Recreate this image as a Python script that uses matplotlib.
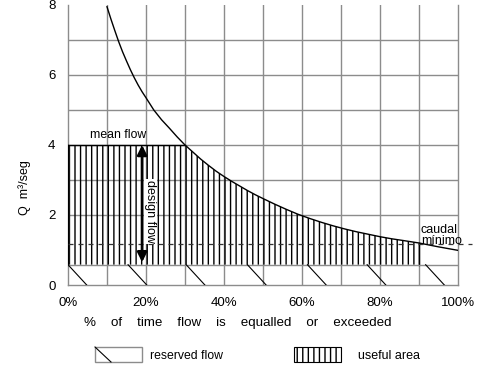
import numpy as np
import matplotlib
matplotlib.use("Agg")
import matplotlib.pyplot as plt
from matplotlib.patches import Rectangle

plt.rcParams['font.family'] = ['Liberation Sans', 'DejaVu Sans']
plt.rcParams['hatch.linewidth'] = 1.0

# flow duration curve
pct = [10, 11, 12, 13, 14, 15, 16, 17, 18, 19, 20, 22, 24, 26, 28, 30, 32, 34, 36, 38, 40,
       42, 44, 46, 48, 50, 53, 56, 59, 62, 65, 68, 71, 74, 77, 80, 83, 86, 90, 95, 100]
flow = [7.95, 7.6, 7.27, 6.95, 6.66, 6.4, 6.15, 5.92, 5.71, 5.52, 5.35, 5.0, 4.72, 4.48, 4.23,
        4.0, 3.8, 3.6, 3.42, 3.25, 3.1, 2.96, 2.83, 2.7, 2.58, 2.47, 2.31, 2.16, 2.02, 1.9,
        1.79, 1.69, 1.6, 1.52, 1.45, 1.38, 1.32, 1.27, 1.2, 1.09, 0.99]

mean_flow = 4.0
reserved_flow = 0.58
min_flow = 1.17
useful_end = 90
design_x = 19
design_bottom = 0.65

x_ticks = [0, 20, 40, 60, 80, 100]
x_tick_labels = ['0%', '20%', '40%', '60%', '80%', '100%']
y_ticks = [0, 2, 4, 6, 8]
v_grid = [10, 20, 30, 40, 50, 60, 70, 80, 90]
h_grid = [2, 3, 4, 5, 6, 7]
reserved_marks = [0, 15.4, 30.3, 46, 61.4, 76.7, 91.7]

grid_col = '#8c8c8c'

fig = plt.figure(figsize=(4.81, 3.71), dpi=100)
ax = fig.add_axes([68/481, 1-285/371, 390/481, 280/371])
ax.set_xlim(0, 100)
ax.set_ylim(0, 8)

for v in v_grid:
    ax.axvline(v, color=grid_col, lw=1.0, zorder=1)
for h in h_grid:
    ax.axhline(h, color=grid_col, lw=1.0, zorder=1)

# useful area: vertical hatching under min(mean flow, curve)
ux = [0]
uy = [mean_flow]
for p, f in zip(pct, flow):
    if f <= mean_flow and p <= useful_end:
        ux.append(p)
        uy.append(f)
ax.fill_between(ux, reserved_flow, uy, facecolor='none', edgecolor='black',
                hatch='|||', lw=0, zorder=2)
ax.plot([0, 30], [mean_flow, mean_flow], color='black', lw=1.0, zorder=3)
ax.plot([0, 0], [reserved_flow, mean_flow], color='black', lw=1.0, zorder=3)
ax.plot([useful_end, useful_end], [reserved_flow, uy[-1]], color='black', lw=1.0, zorder=3)

# reserved flow band
ax.plot([0, 100], [reserved_flow, reserved_flow], color=grid_col, lw=1.0, zorder=3)
for m in reserved_marks:
    ax.plot([m, m + 4.8], [reserved_flow, 0], color='black', lw=0.8, zorder=3)

# duration curve
ax.plot(pct, flow, color='black', lw=1.0, zorder=4)

# minimum flow dashed line
ax.plot([0, 103.5], [min_flow, min_flow], color='#333333', lw=0.9,
        dashes=(4, 4), zorder=4, clip_on=False)
ax.text(90.5, min_flow - 0.08, 'caudal\nmínimo', fontsize=9, ha='left', va='bottom',
        linespacing=0.85, zorder=5, clip_on=False)

# design flow arrow
ax.annotate('', xy=(design_x, mean_flow), xytext=(design_x, design_bottom),
            arrowprops=dict(arrowstyle='<|-|>', color='black', lw=2.0,
                            mutation_scale=14, shrinkA=0, shrinkB=0), zorder=5)
ax.text(design_x + 2.1, 2.1, 'design flow', rotation=-90, fontsize=9,
        ha='center', va='center', zorder=5,
        bbox=dict(facecolor='white', edgecolor='none', pad=0.5))
ax.text(12.8, mean_flow + 0.1, 'mean flow', fontsize=8.8, ha='center', va='bottom', zorder=5)

for s in ['left', 'right', 'bottom']:
    ax.spines[s].set_color(grid_col)
    ax.spines[s].set_linewidth(1.0)
ax.spines['top'].set_visible(False)

ax.set_xticks(x_ticks)
ax.set_xticklabels(x_tick_labels, fontsize=9.5)
ax.set_yticks(y_ticks)
ax.set_yticklabels([str(t) for t in y_ticks], fontsize=9.5)
ax.tick_params(length=0, pad=9)

fig.text(25/481, 1-188/371, 'Q  m³/seg', rotation=90, fontsize=9, ha='center', va='center')
fig.text(238/481, 1-323/371, '%    of    time    flow    is    equalled    or    exceeded',
         fontsize=9.6, ha='center', va='center')

# legend
lax = fig.add_axes([0, 0, 1, 1])
lax.set_xlim(0, 481)
lax.set_ylim(371, 0)
lax.axis('off')
lax.add_patch(Rectangle((95, 347), 47, 15, facecolor='none', edgecolor=grid_col, lw=1.0))
lax.plot([95, 111], [347, 362], color='black', lw=0.8)
lax.text(150, 356, 'reserved flow', fontsize=8.8, va='center', ha='left')
lax.add_patch(Rectangle((294, 347), 47, 15, facecolor='none', edgecolor='black',
                        hatch='|||', lw=0.8))
lax.text(358, 356, 'useful area', fontsize=9, va='center', ha='left')

fig.savefig('out.png', dpi=100)
